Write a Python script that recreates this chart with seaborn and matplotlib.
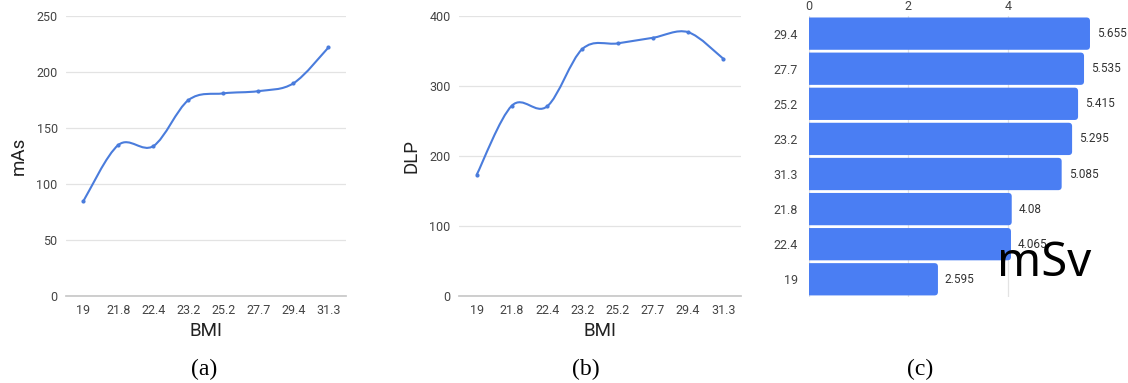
import numpy as np
import pandas as pd
import matplotlib
matplotlib.use("Agg")
import matplotlib.pyplot as plt
from matplotlib.path import Path
from matplotlib.patches import PathPatch, FancyBboxPatch
import seaborn as sns

# data
bmi = ["19", "21.8", "22.4", "23.2", "25.2", "27.7", "29.4", "31.3"]
mas = [85, 135, 134, 175, 181, 183, 190, 222]
dlp = [173, 272, 271, 353, 361, 369, 377, 339]

msv_bmi = ["29.4", "27.7", "25.2", "23.2", "31.3", "21.8", "22.4", "19"]
msv = [5.655, 5.535, 5.415, 5.295, 5.085, 4.08, 4.065, 2.595]

LINE = "#4a7cdc"
BAR = "#4a7ef3"
GRID = "#e3e3e3"
TXT = "#444444"

sns.set_theme(style="white")
plt.rcParams["font.family"] = ["Roboto", "DejaVu Sans"]


def smooth_path(xs, ys):
    # catmull-rom style bezier through the data points
    pts = np.column_stack([xs, ys]).astype(float)
    n = len(pts)
    verts = [pts[0]]
    codes = [Path.MOVETO]
    for i in range(n - 1):
        p0 = pts[i - 1] if i > 0 else pts[i]
        p1 = pts[i]
        p2 = pts[i + 1]
        p3 = pts[i + 2] if i + 2 < n else pts[i + 1]
        verts += [p1 + (p2 - p0) / 6, p2 - (p3 - p1) / 6, p2]
        codes += [Path.CURVE4] * 3
    return Path(verts, codes)


def line_panel(ax, vals, ylabel, ymax, step):
    df = pd.DataFrame({"BMI": bmi, "val": vals})
    sns.scatterplot(data=df, x="BMI", y="val", ax=ax, color=LINE, s=9,
                    edgecolor=LINE, linewidth=0, zorder=3)
    ax.add_patch(PathPatch(smooth_path(np.arange(len(vals)), vals),
                           facecolor="none", edgecolor=LINE, lw=1.5, zorder=2))
    ax.set_xlim(-0.5, len(vals) - 0.5)
    ax.set_ylim(0, ymax)
    ax.set_yticks(np.arange(0, ymax + 1, step))
    ax.yaxis.grid(True, color=GRID, lw=0.9)
    ax.set_axisbelow(True)
    for s in ["top", "right", "left"]:
        ax.spines[s].set_visible(False)
    ax.spines["bottom"].set_color("#c8c8c8")
    ax.tick_params(axis="both", length=0, labelsize=9, colors=TXT, pad=6)
    ax.set_xlabel("BMI", fontsize=13.5, color="#222222", labelpad=3)
    ax.set_ylabel(ylabel, fontsize=13.5, color="#222222", labelpad=6)


fig = plt.figure(figsize=(11.28, 3.83), dpi=100)
ax1 = fig.add_axes([0.0585, 0.227, 0.2482, 0.731])
ax2 = fig.add_axes([0.4069, 0.227, 0.250, 0.731])
ax3 = fig.add_axes([0.7172, 0.225, 0.2491, 0.733])

line_panel(ax1, mas, "mAs", 250, 50)
line_panel(ax2, dlp, "DLP", 400, 100)

# panel c - horizontal bars
dfc = pd.DataFrame({"BMI": msv_bmi, "mSv": msv})
sns.barplot(data=dfc, x="mSv", y="BMI", ax=ax3, color=BAR, saturation=1,
            width=0.92, orient="h")
ax3.set_xlim(0, max(msv))
ax3.set_xticks([0, 2, 4])
ax3.xaxis.tick_top()
ax3.xaxis.grid(True, color=GRID, lw=0.9)
ax3.set_axisbelow(True)
for s in ax3.spines.values():
    s.set_visible(False)
ax3.tick_params(axis="both", length=0, labelsize=9, colors=TXT, pad=2)
ax3.tick_params(axis="y", pad=8)
ax3.set_xlabel("")
ax3.set_ylabel("")
for c in ax3.containers:
    ax3.bar_label(c, labels=[f"{v:g}" for v in msv], padding=5,
                  fontsize=8.5, color="#333333")

# round the right end of each bar (left end is clipped at x=0)
r = 0.07
for p in list(ax3.patches):
    x, y, w, h = p.get_x(), p.get_y(), p.get_width(), p.get_height()
    p.set_visible(False)
    ax3.add_patch(FancyBboxPatch((x - 2 * r, y), w + 2 * r, h,
                                 boxstyle=f"round,pad=0,rounding_size={r}",
                                 mutation_aspect=1.4, facecolor=BAR,
                                 edgecolor="none", zorder=2))

ax3.text(0.668, 0.075, "mSv", transform=ax3.transAxes, fontsize=34,
         color="black", family=["Noto Sans", "DejaVu Sans"])

# captions
for x, cap in [(0.181, "(a)"), (0.519, "(b)"), (0.816, "(c)")]:
    fig.text(x, 0.035, cap, ha="center", va="center", fontsize=17,
             family=["Liberation Serif", "DejaVu Serif"], color="black")

fig.savefig("out.png", dpi=100)
